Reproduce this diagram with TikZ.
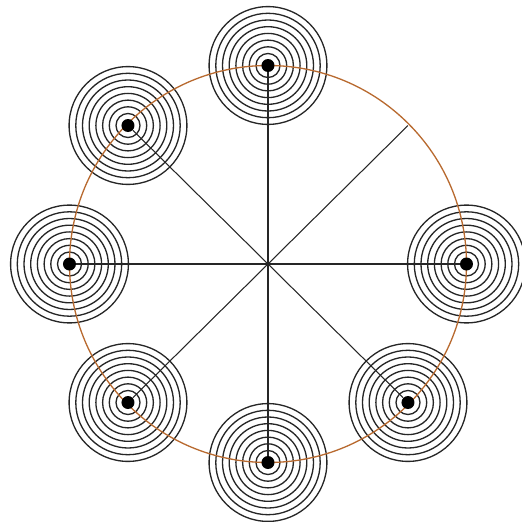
\documentclass[tikz,border=0pt]{standalone}
\usepackage{tikz}
\definecolor{rimbrown}{RGB}{184,106,48}
\tikzstyle{hub}=[circle,fill=black,inner sep=0pt,minimum size=2.6mm]
\tikzstyle{ring}=[draw=black!85,line width=0.75pt]
\tikzstyle{spoke}=[draw=black!85,line width=0.6pt]

\begin{document}
\begin{tikzpicture}
\useasboundingbox (-5.36,-5.16) rectangle (5.08,5.28);
\coordinate (O) at (0,0);
% places on the rim
\coordinate (k0) at (3.97,0);
\coordinate (k45) at (2.80,2.77);
\coordinate (k90) at (0,3.97);
\coordinate (k135) at (-2.80,2.77);
\coordinate (k180) at (-3.97,0);
\coordinate (k225) at (-2.80,-2.77);
\coordinate (k270) at (0,-3.97);
\coordinate (k315) at (2.80,-2.77);
% rings round every hub
\foreach \a in {0,90,135,180,225,270,315}{
  \foreach \k in {0,...,7}{
    \draw[ring] (k\a) circle ({0.24+0.134*\k});
  }
}
\draw[rimbrown,line width=0.75pt] (O) circle (3.97);
\foreach \a in {0,90,135,180,225,270,315}{
  \node[hub] (p\a) at (k\a) {};
}
\foreach \a in {0,90,135,180,225,270,315}{
  \draw[spoke] (O)--(p\a);
}
\draw[spoke] (O)--(k45);
\end{tikzpicture}
\end{document}
